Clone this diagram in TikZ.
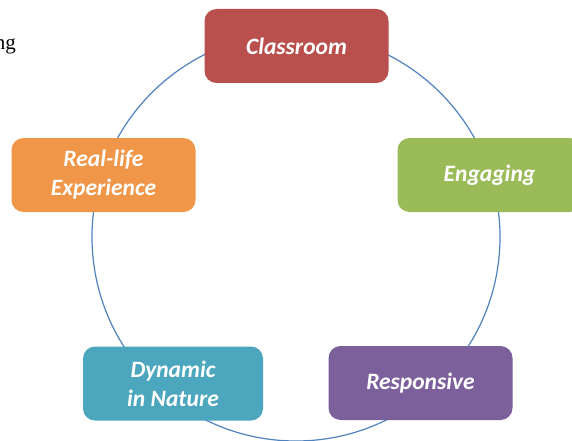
\documentclass[tikz,border=0pt]{standalone}
\usepackage{fontspec}
\setmainfont{Liberation Serif}
\newfontfamily\boxfont{Carlito}
\definecolor{cRed}{RGB}{185,80,77}
\definecolor{cGreen}{RGB}{155,187,89}
\definecolor{cPurple}{RGB}{124,96,156}
\definecolor{cTeal}{RGB}{75,166,190}
\definecolor{cOrange}{RGB}{240,150,72}
\definecolor{cLine}{RGB}{79,129,189}
\begin{document}
\begin{tikzpicture}[x=1pt,y=-1pt,
  item/.style={rounded corners=12pt, minimum width=184pt, minimum height=74pt,
    inner sep=0pt, text=white, align=center,
    font=\boxfont\bfseries\itshape\fontsize{23.5}{29}\selectfont}]
\useasboundingbox (0,0) rectangle (572,441);
\draw[cLine, line width=1.2pt] (296,237) circle (204);
\node[item, fill=cRed] (classroom) at (296.5,46) {\raisebox{-2pt}{Classroom}};
\node[item, fill=cGreen] (engaging) at (489.5,175) {\raisebox{-2pt}{Engaging}};
\node[item, fill=cOrange] (reallife) at (103.5,175) {Real-life\\Experience};
\node[item, fill=cTeal, minimum width=180pt] (dynamic) at (173,383.5) {Dynamic\\in Nature};
\node[item, fill=cPurple] (responsive) at (420.5,383) {\raisebox{-2pt}{Responsive}};
\node[anchor=base east, inner sep=0pt, font=\fontsize{21}{24}\selectfont] (ng) at (16,50) {ng};
\end{tikzpicture}
\end{document}
